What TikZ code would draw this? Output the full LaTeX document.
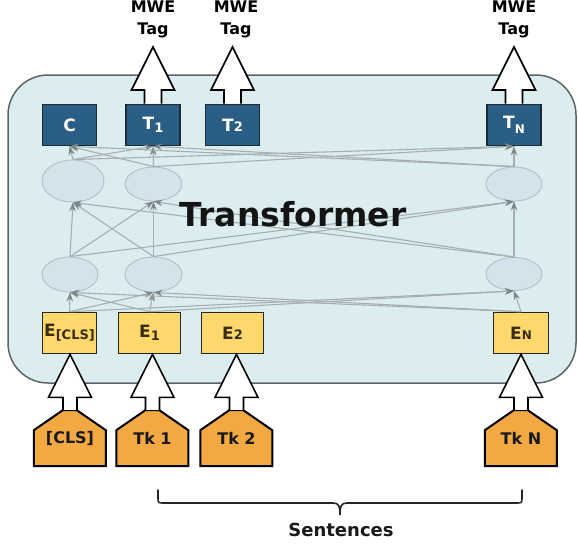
\documentclass[tikz,border=0pt]{standalone}
\usepackage{fontspec}
\setmainfont{DejaVu Sans}
\usetikzlibrary{arrows.meta,calc,backgrounds,shapes.geometric}
\definecolor{boxbg}{HTML}{DCEDF0}
\definecolor{boxline}{HTML}{5E6466}
\definecolor{tblue}{HTML}{2B5E84}
\definecolor{tline}{HTML}{1C2B36}
\definecolor{eyel}{HTML}{FDD86C}
\definecolor{etext}{HTML}{3A2C10}
\definecolor{tokor}{HTML}{F2A843}
\definecolor{ellfill}{HTML}{D3E3EB}
\definecolor{elldraw}{HTML}{B0BFC6}
\definecolor{connc}{HTML}{A6AEB0}
\definecolor{conntip}{HTML}{7E8688}
\newcommand{\fatarrow}[3]{\draw[fat] let \p1=(#2), \p2=(#3) in
  (\x1-#1,\y1) -- (\x1-#1,\y2-43pt) -- (\x1-21.5pt,\y2-43pt) -- (\x1,\y2) --
  (\x1+21.5pt,\y2-43pt) -- (\x1+#1,\y2-43pt) -- (\x1+#1,\y1);}
\newcommand{\fsz}[1]{\fontsize{#1}{#1}\selectfont}
\begin{document}
\begin{tikzpicture}[x=1pt,y=-1pt,
  bigbox/.style={draw=boxline, line width=1.5pt, fill=boxbg, rounded corners=40pt,
    minimum width=568pt, minimum height=308pt, inner sep=0},
  tbox/.style={draw=tline, line width=1.6pt, fill=tblue, text=white,
    font=\bfseries\fsz{17}, minimum width=54pt, minimum height=41pt, inner sep=0},
  ebox/.style={draw=black!85, line width=1.6pt, fill=eyel, text=etext,
    font=\bfseries\fsz{17}, minimum height=41pt, inner sep=0},
  neuron/.style={ellipse, draw=elldraw, fill=ellfill, line width=0.9pt, inner sep=0},
  tokbox/.style={minimum width=72pt, minimum height=56pt, inner sep=0,
    text=black!90, font=\bfseries\fsz{16}},
  tokshape/.style={draw=black, line width=2pt, fill=tokor, line join=miter},
  fat/.style={draw=black, line width=1.6pt, fill=white, line join=miter},
  conn/.style={draw=connc, line width=1.1pt, -{Stealth[length=9pt,width=6.5pt,color=conntip]}},
  tagtext/.style={align=center, font=\bfseries\fontsize{16}{22}\selectfont, inner sep=0, anchor=north},
  bracel/.style={draw=black!85, line width=1.6pt, line cap=round},
]
\useasboundingbox (0,0) rectangle (578,544);

% transformer box
\node[bigbox] (tbx) at (292,229) {};

% neurons
\node[neuron, minimum width=62pt, minimum height=42pt] (u1) at (73,181) {};
\node[neuron, minimum width=57pt, minimum height=34pt] (u2) at (153.5,184) {};
\node[neuron, minimum width=56pt, minimum height=34pt] (uN) at (514,184) {};
\node[neuron, minimum width=56pt, minimum height=35pt] (l1) at (70,274.5) {};
\node[neuron, minimum width=57pt, minimum height=35pt] (l2) at (153.5,274.5) {};
\node[neuron, minimum width=56pt, minimum height=33pt] (lN) at (514,274) {};

% output boxes
\node[tbox] (tC) at (69.5,125) {C};
\node[tbox] (t1) at (153,125) {T\raisebox{-3pt}{\fsz{13}1}};
\node[tbox] (t2) at (232.5,125) {T{\fsz{13}2}};
\node[tbox] (tN) at (514,125) {T\raisebox{-5pt}{\fsz{12}N}};

% embedding boxes
\node[ebox, minimum width=54pt] (eC) at (69.5,333) {E\raisebox{-3pt}{\fsz{13}[CLS]}};
\node[ebox, minimum width=62pt] (e1) at (149.5,333) {E\raisebox{-3pt}{\fsz{13}1}};
\node[ebox, minimum width=62pt] (e2) at (232.5,333) {E{\fsz{13}2}};
\node[ebox, minimum width=55pt] (eN) at (521,333) {E{\fsz{12}N}};

% connections
\foreach \s in {eC,e1,eN} \foreach \t in {l1,l2,lN} \draw[conn] (\s.north) -- (\t.south);
\foreach \s in {l1,l2,lN} \foreach \t in {u1,u2,uN} \draw[conn] (\s.north) -- (\t.south);
\foreach \s in {u1,u2,uN} \foreach \t in {tC,t1,tN} \draw[conn] (\s.north) -- (\t.south);

\node[font=\bfseries\fsz{33}, text=black!92] (tlabel) at (293,214) {Transformer};

% tokens
\node[tokbox] (kC) at (70,438) {[CLS]};
\node[tokbox] (k1) at (152.5,438) {Tk 1};
\node[tokbox] (k2) at (236.5,438) {Tk 2};
\node[tokbox] (kN) at (521,438) {Tk N};
\begin{scope}[on background layer]
\foreach \n in {kC,k1,k2,kN}
  \draw[tokshape] (\n.south west) -- ++(0,-36) -- ++(29,-20) -- ++(14,0) -- ++(29,20) -- ++(0,36) -- cycle;
\end{scope}

% input fat arrows
\fatarrow{7pt}{kC.north}{eC.south}
\fatarrow{7pt}{k1.north}{e1.south}
\fatarrow{7pt}{k2.north}{e2.south}
\fatarrow{7pt}{kN.north}{eN.south}

% output tags
\node[tagtext] (g1) at (153,1) {MWE\\Tag};
\node[tagtext] (g2) at (236,1) {MWE\\Tag};
\node[tagtext] (gN) at (514,1) {MWE\\Tag};
\coordinate (p1) at (153,47);
\coordinate (p2) at (236,47);
\coordinate (pN) at (514,47);
\fatarrow{8.5pt}{t1.north}{p1}
\fatarrow{8.5pt}{t2.north}{p2}
\fatarrow{8.5pt}{tN.north}{pN}

% brace
\coordinate (bl) at (158,490);
\coordinate (br) at (522,490);
\coordinate (bm) at (340,515);
\draw[bracel] (bl) -- (158,497) .. controls (158,503) .. (164,503) -- (333,503)
  .. controls (339,503) and (340,506) .. (bm)
  .. controls (340,506) and (341,503) .. (347,503) -- (516,503)
  .. controls (522,503) .. (522,497) -- (br);
\node[font=\bfseries\fsz{18}, text=black!90] (sent) at (341,530) {Sentences};
\end{tikzpicture}
\end{document}
